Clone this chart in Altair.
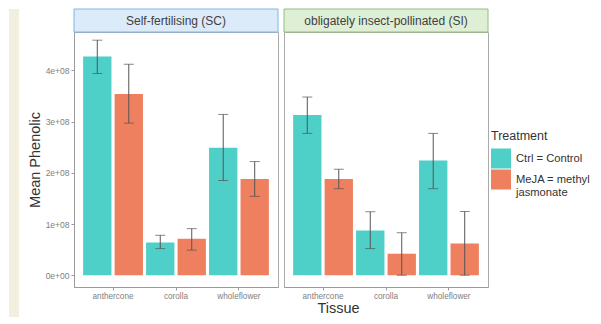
import altair as alt
import pandas as pd

# ---- data ----
tissues = ["anthercone", "corolla", "wholeflower"]
systems = ["Self-fertilising (SC)", "obligately insect-pollinated (SI)"]
treatments = ["Ctrl", "MeJA"]
treatment_labels = ["Ctrl = Control", "MeJA = methyl|jasmonate"]

sc_ctrl_mean = [4.27e8, 0.64e8, 2.49e8]
sc_ctrl_lo = [3.94e8, 0.52e8, 1.85e8]
sc_ctrl_hi = [4.59e8, 0.78e8, 3.14e8]
sc_meja_mean = [3.54e8, 0.71e8, 1.88e8]
sc_meja_lo = [2.97e8, 0.49e8, 1.54e8]
sc_meja_hi = [4.12e8, 0.91e8, 2.22e8]
si_ctrl_mean = [3.13e8, 0.875e8, 2.24e8]
si_ctrl_lo = [2.77e8, 0.52e8, 1.69e8]
si_ctrl_hi = [3.48e8, 1.24e8, 2.77e8]
si_meja_mean = [1.88e8, 0.42e8, 0.62e8]
si_meja_lo = [1.69e8, 0.0, 0.0]
si_meja_hi = [2.07e8, 0.83e8, 1.245e8]

y_ticks = [0, 1e8, 2e8, 3e8, 4e8]

series = [
    (systems[0], treatments[0], sc_ctrl_mean, sc_ctrl_lo, sc_ctrl_hi),
    (systems[0], treatments[1], sc_meja_mean, sc_meja_lo, sc_meja_hi),
    (systems[1], treatments[0], si_ctrl_mean, si_ctrl_lo, si_ctrl_hi),
    (systems[1], treatments[1], si_meja_mean, si_meja_lo, si_meja_hi),
]
rows = []
for sysname, tr, m, lo, hi in series:
    for t, mv, lv, hv in zip(tissues, m, lo, hi):
        rows.append({"system": sysname, "Treatment": tr, "Tissue": t,
                     "mean": mv, "lo": lv, "hi": hv})
df = pd.DataFrame(rows)

TEAL = "#4ECFC8"
ORANGE = "#EE7F5F"
BEIGE = "#F3EFDF"
W, H = 204, 255
STRIP = 23
FONT = "Liberation Sans"

label_expr = " : ".join(
    f"datum.label == '{tr}' ? split('{lab}', '|')" for tr, lab in zip(treatments, treatment_labels)
) + " : datum.label"

color_scale = alt.Scale(domain=treatments, range=[TEAL, ORANGE])
legend = alt.Legend(
    title="Treatment", orient="none", legendX=417, legendY=98,
    symbolType="square", symbolSize=400, symbolStrokeWidth=0,
    titleFontSize=12.5, titleColor="#333333", titleFontWeight="normal",
    labelFontSize=11.2, labelColor="#333333", labelExpr=label_expr,
    rowPadding=1, titlePadding=6, labelOffset=5,
)
y_scale = alt.Scale(domain=[-0.23e8, 4.75e8], nice=False, zero=False)
x_scale = alt.Scale(domain=tissues, paddingInner=0, paddingOuter=0.12)
off_scale = alt.Scale(domain=treatments, paddingInner=0.1, paddingOuter=0.05)

tick_style = dict(labelFontSize=8.2, labelColor="#808080", tickColor="#9a9a9a", tickSize=3,
                  domainColor="#9a9a9a", labelPadding=2)


def panel(idx, strip_fill, strip_stroke):
    d = df[df["system"] == systems[idx]]
    base = alt.Chart(d)
    if idx == 0:
        yaxis = alt.Axis(
            values=y_ticks, labelExpr="replace(format(datum.value, '.0e'), 'e+', 'e+0')",
            grid=False, title="Mean Phenolic", titleFontSize=14.5,
            titleColor="#333333", titleFontWeight="normal", titlePadding=3,
            **{**tick_style, "labelFontSize": 8.5},
        )
        xaxis = alt.Axis(title=None, labelAngle=0, **tick_style)
    else:
        yaxis = None
        xaxis = alt.Axis(title="Tissue", labelAngle=0, titleFontSize=14.5, titleColor="#333333",
                         titleFontWeight="normal", titleX=54, titlePadding=2, **tick_style)
    x = alt.X("Tissue:N", scale=x_scale, axis=xaxis, sort=tissues)
    xo = alt.XOffset("Treatment:N", scale=off_scale, sort=treatments)
    bars = base.mark_bar().encode(
        x=x, xOffset=xo,
        y=alt.Y("mean:Q", scale=y_scale, axis=yaxis),
        fill=alt.Fill("Treatment:N", scale=color_scale, legend=legend),
    )
    rules = base.mark_rule(color="#555555", strokeWidth=1).encode(
        x=x, xOffset=xo, y=alt.Y("lo:Q", scale=y_scale), y2="hi:Q")
    cap_lo = base.mark_tick(color="#555555", thickness=1, size=10).encode(
        x=x, xOffset=xo, y=alt.Y("lo:Q", scale=y_scale))
    cap_hi = base.mark_tick(color="#555555", thickness=1, size=10).encode(
        x=x, xOffset=xo, y=alt.Y("hi:Q", scale=y_scale))
    one = alt.Data(values=[{"s": systems[idx]}])
    strip = alt.Chart(one).mark_rect(fill=strip_fill, stroke=strip_stroke, strokeWidth=1).encode(
        x=alt.value(0), x2=alt.value(W), y=alt.value(-STRIP), y2=alt.value(0))
    strip_text = alt.Chart(one).mark_text(fontSize=12, color="#404040", baseline="middle",
                                          font=FONT).encode(
        x=alt.value(W / 2), y=alt.value(-STRIP / 2), text="s:N")
    layers = [bars, rules, cap_lo, cap_hi, strip, strip_text]
    if idx == 0:
        beige = alt.Chart(one).mark_rect(fill=BEIGE).encode(
            x=alt.value(-65), x2=alt.value(-55), y=alt.value(-STRIP), y2=alt.value(H + 30))
        layers = [beige] + layers
    return alt.layer(*layers).properties(width=W, height=H)


p1 = panel(0, "#DCEBFA", "#7FB6E8")
p2 = panel(1, "#DEEFD6", "#8FC07F")

chart = alt.hconcat(p1, p2, spacing=4).properties(
    padding={"left": 0, "top": 0, "right": 0, "bottom": 0},
    background="white",
).configure(font=FONT).configure_view(stroke="#aaaaaa", strokeWidth=1)

chart.save("out.html", embed_options={"renderer": "svg", "actions": False})
